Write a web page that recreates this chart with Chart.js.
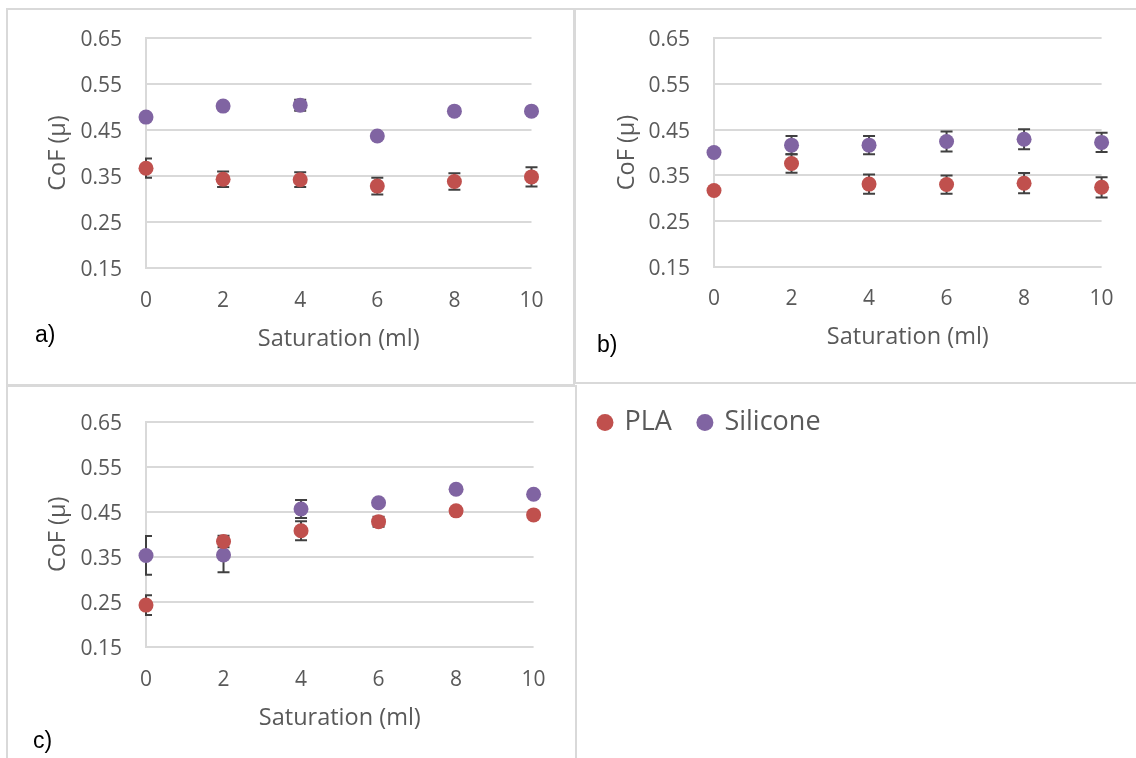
<!DOCTYPE html>
<html>
<head>
<meta charset="utf-8">
<script src="https://cdn.jsdelivr.net/npm/chart.js@4.4.1/dist/chart.umd.min.js"></script>
<style>
  body { margin: 0; background: #fff; width: 1136px; height: 758px; overflow: hidden; position: relative; }
  .box { position: absolute; box-sizing: border-box; border: 2px solid #d9d9d9; }
  canvas { position: absolute; }
  .tag { position: absolute; font-family: "Liberation Sans", Arial, sans-serif; font-size: 23px; line-height: 23px; color: #000; }
</style>
</head>
<body>
<div class="box" style="left:6px;top:8px;width:569px;height:378px"></div>
<div class="box" style="left:574px;top:8px;width:600px;height:376px"></div>
<div class="box" style="left:6px;top:385px;width:571px;height:400px"></div>

<canvas id="chartA" width="575" height="385" style="left:0;top:0"></canvas>
<canvas id="chartB" width="561" height="385" style="left:575px;top:0"></canvas>
<canvas id="chartC" width="575" height="373" style="left:0;top:385px"></canvas>
<canvas id="legend" width="564" height="377" style="left:572px;top:382px"></canvas>

<div class="tag" style="left:35px;top:323px">a)</div>
<div class="tag" style="left:597px;top:333px">b)</div>
<div class="tag" style="left:33px;top:729px">c)</div>

<script>
// saturation levels (ml)
const saturation = [0, 2, 4, 6, 8, 10]
const yTicks = [0.15, 0.25, 0.35, 0.45, 0.55, 0.65]

// a)
const plaA = [0.367, 0.343, 0.342, 0.328, 0.338, 0.348]
const plaAErr = [0.021, 0.017, 0.016, 0.018, 0.018, 0.021]
const silA = [0.478, 0.502, 0.504, 0.437, 0.491, 0.491]
const silAErr = [0.006, 0.006, 0.012, 0.006, 0.006, 0.006]

// b)
const plaB = [0.317, 0.376, 0.331, 0.330, 0.333, 0.324]
const plaBErr = [0.005, 0.020, 0.021, 0.020, 0.022, 0.022]
const silB = [0.400, 0.416, 0.416, 0.424, 0.429, 0.422]
const silBErr = [0.005, 0.020, 0.020, 0.022, 0.022, 0.021]

// c)
const plaC = [0.243, 0.384, 0.408, 0.428, 0.452, 0.443]
const plaCErr = [0.022, 0.013, 0.021, 0.011, 0.005, 0.005]
const silC = [0.353, 0.354, 0.456, 0.470, 0.500, 0.489]
const silCErr = [0.043, 0.038, 0.020, 0.005, 0.005, 0.005]

const PLA_COLOR = '#c0504d'
const SIL_COLOR = '#8064a2'
const TEXT = '#595959'

// whiskers drawn before the markers, clipped to the plot area like Excel does
const errorBars = {
  id: 'errorBars',
  beforeDatasetsDraw(chart) {
    const {ctx, chartArea, scales} = chart
    ctx.save()
    ctx.beginPath()
    ctx.rect(chartArea.left - 1, chartArea.top - 10, chartArea.width + 11, chartArea.height + 20)
    ctx.clip()
    ctx.strokeStyle = '#404040'
    ctx.lineWidth = 2
    chart.data.datasets.forEach(ds => {
      ds.data.forEach((p, i) => {
        const e = ds.errors[i]
        const px = scales.x.getPixelForValue(p.x)
        const top = scales.y.getPixelForValue(p.y + e)
        const bot = scales.y.getPixelForValue(p.y - e)
        ctx.beginPath()
        ctx.moveTo(px, top); ctx.lineTo(px, bot)
        ctx.moveTo(px - 6, top); ctx.lineTo(px + 6, top)
        ctx.moveTo(px - 6, bot); ctx.lineTo(px + 6, bot)
        ctx.stroke()
      })
    })
    ctx.restore()
  }
}

function points(vals) {
  return vals.map((v, i) => ({x: saturation[i], y: v}))
}

function makePanel(id, g, pla, plaErr, sil, silErr) {
  new Chart(document.getElementById(id), {
    type: 'scatter',
    plugins: [errorBars],
    data: {
      datasets: [
        {label: 'PLA', data: points(pla), errors: plaErr, backgroundColor: PLA_COLOR, borderColor: PLA_COLOR,
         pointRadius: 7.5, pointBorderWidth: 0, clip: false},
        {label: 'Silicone', data: points(sil), errors: silErr, backgroundColor: SIL_COLOR, borderColor: SIL_COLOR,
         pointRadius: 7.5, pointBorderWidth: 0, clip: false}
      ]
    },
    options: {
      responsive: false,
      animation: false,
      events: [],
      layout: {padding: {top: g.top, right: g.w - g.right, left: 0, bottom: 0}},
      plugins: {legend: {display: false}, tooltip: {enabled: false}},
      scales: {
        x: {
          type: 'linear', min: 0, max: 10,
          afterFit: s => { s.height = g.h - g.bottom },
          grid: {display: false, drawTicks: false},
          border: {display: false},
          ticks: {stepSize: 2, padding: g.xPad, color: TEXT, font: {family: 'Open Sans', size: 21}},
          title: {display: true, text: 'Saturation (ml)', color: TEXT,
                  font: {family: 'Open Sans', size: 23.5}, padding: {top: 0, bottom: g.xTitle}}
        },
        y: {
          min: 0.15, max: 0.65,
          afterFit: s => { s.width = g.left },
          afterBuildTicks: s => { s.ticks = yTicks.map(v => ({value: v})) },
          grid: {color: '#d9d9d9', lineWidth: 2, drawTicks: false},
          border: {color: '#d9d9d9', width: 2},
          ticks: {padding: 24, labelOffset: 2, color: TEXT, font: {family: 'Open Sans', size: 21},
                  callback: v => v.toFixed(2)},
          title: {display: true, text: 'CoF (µ)', color: TEXT,
                  font: {family: 'Open Sans', size: 23.5}, padding: {top: g.yTitle, bottom: 0}}
        }
      }
    }
  })
}

makePanel('chartA', {w: 575, h: 385, left: 146, right: 531.5, top: 38, bottom: 268, xPad: 20, xTitle: 32, yTitle: 44.6},
  plaA, plaAErr, silA, silAErr)
makePanel('chartB', {w: 561, h: 385, left: 139, right: 526.6, top: 38, bottom: 267, xPad: 19, xTitle: 34, yTitle: 37.8},
  plaB, plaBErr, silB, silBErr)
makePanel('chartC', {w: 575, h: 373, left: 146, right: 533.6, top: 33, bottom: 262, xPad: 20, xTitle: 26, yTitle: 44.6},
  plaC, plaCErr, silC, silCErr)

// shared legend in the empty fourth cell
new Chart(document.getElementById('legend'), {
  type: 'scatter',
  data: {
    datasets: [
      {label: 'PLA', data: [], backgroundColor: PLA_COLOR, borderColor: PLA_COLOR, pointBorderWidth: 0},
      {label: 'Silicone', data: [], backgroundColor: SIL_COLOR, borderColor: SIL_COLOR, pointBorderWidth: 0}
    ]
  },
  options: {
    responsive: false,
    animation: false,
    events: [],
    plugins: {
      tooltip: {enabled: false},
      legend: {
        position: 'top', align: 'start',
        labels: {usePointStyle: true, pointStyle: 'circle', boxWidth: 12, boxHeight: 12, padding: 27,
                 color: TEXT, font: {family: 'Open Sans', size: 27}}
      }
    },
    scales: {x: {display: false}, y: {display: false}}
  }
})
</script>
</body>
</html>
